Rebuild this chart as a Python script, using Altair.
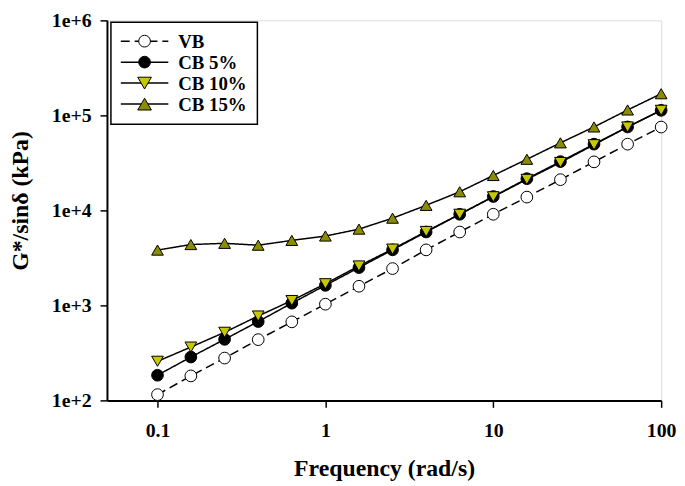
import altair as alt
import pandas as pd

# ---- data ----
freq = [0.1, 0.158, 0.251, 0.398, 0.631, 1.0, 1.585, 2.512, 3.981, 6.31,
        10.0, 15.85, 25.12, 39.81, 63.1, 100.0]
vb = [115, 181, 279, 436, 671, 1030, 1590, 2440, 3840, 5920,
      9100, 13800, 21050, 32400, 49800, 75400]
cb5 = [184, 286, 439, 676, 1055, 1626, 2500, 3843, 5920, 9100,
       14000, 21560, 32600, 49800, 75500, 113000]
cb10 = [258, 364, 521, 773, 1125, 1690, 2600, 3910, 6000, 9100,
        13900, 21200, 31900, 49100, 75500, 113000]
cb15 = [3820, 4370, 4500, 4300, 4830, 5370, 6350, 8280, 11300, 15700,
        23300, 34500, 51400, 75500, 114000, 169000]

names = ["VB", "CB 5%", "CB 10%", "CB 15%"]
series_vals = [vb, cb5, cb10, cb15]
x_ticks = [0.1, 1, 10, 100]
y_ticks = [1e2, 1e3, 1e4, 1e5, 1e6]

rows = []
for n, vals in zip(names, series_vals):
    for f, v in zip(freq, vals):
        rows.append({"freq": f, "value": v, "series": n})
df = pd.DataFrame(rows)

FONT = "Liberation Serif"
fills = ["white", "black", "#C8C800", "#8C8C00"]
shapes = ["circle", "circle", "triangle-down", "triangle-up"]
sizes = [140, 140, 190, 190]
dashes = [[9, 5], [1, 0], [1, 0], [1, 0]]

fill_scale = alt.Scale(domain=names, range=fills)
shape_scale = alt.Scale(domain=names, range=shapes)
size_scale = alt.Scale(domain=names, range=sizes)
dash_scale = alt.Scale(domain=names, range=dashes)

H = 384

x_enc = alt.X(
    "freq:Q",
    scale=alt.Scale(type="log", domain=[0.05, 100], nice=False),
    axis=alt.Axis(
        values=x_ticks, format="~g", title="Frequency (rad/s)", grid=False,
        tickSize=7, tickWidth=1.5, tickColor="black", domainColor="black",
        domainWidth=2, labelFont=FONT, labelFontSize=20, labelFontWeight="bold",
        labelColor="black", labelPadding=13, labelFlush=False, labelOverlap=False,
        titleFont=FONT, titleFontSize=24, titleFontWeight="bold", titleColor="black",
        titleBaseline="alphabetic", titleY=76,
    ),
)
y_enc = alt.Y(
    "value:Q",
    scale=alt.Scale(type="log", domain=[1e2, 1e6], nice=False),
    axis=alt.Axis(
        values=y_ticks, labelExpr="'1e+' + round(log(datum.value) / LN10)",
        title="G*/sinδ (kPa)", grid=False,
        tickSize=7, tickWidth=1.5, tickColor="black", domainColor="black",
        domainWidth=2, labelFont=FONT, labelFontSize=20, labelFontWeight="bold",
        labelColor="black", labelPadding=9, labelOverlap=False,
        titleFont=FONT, titleFontSize=24, titleFontWeight="bold", titleColor="black",
        titleBaseline="bottom", titleX=-75, titleY=182, titleAngle=270,
    ),
)

lines = alt.Chart(df).mark_line(color="black", strokeWidth=1.5).encode(
    x=x_enc, y=y_enc, detail="series:N",
    strokeDash=alt.StrokeDash("series:N", scale=dash_scale, legend=None),
)
points = alt.Chart(df).mark_point(filled=True, stroke="black", strokeWidth=1, opacity=1).encode(
    x="freq:Q", y="value:Q",
    fill=alt.Fill("series:N", scale=fill_scale, legend=None),
    shape=alt.Shape("series:N", scale=shape_scale, legend=None),
    size=alt.Size("series:N", scale=size_scale, legend=None),
)

# ---- hand-made legend box ----
box_df = pd.DataFrame({"series": ["box"]})
box = alt.Chart(box_df).mark_rect(fill="white", stroke="black", strokeWidth=1.5).encode(
    x=alt.value(4), x2=alt.value(152), y=alt.value(2), y2=alt.value(105)
)
legend_layers = [box]
for i, n in enumerate(names):
    ly = 21 + 21.2 * i
    ldf = pd.DataFrame({"series": [n]})
    legend_layers.append(
        alt.Chart(ldf).mark_rule(color="black", strokeWidth=1.5,
                                 strokeDash=dashes[i]).encode(
            x=alt.value(14), x2=alt.value(62), y=alt.value(ly)
        )
    )
    legend_layers.append(
        alt.Chart(ldf).mark_point(filled=True, stroke="black", strokeWidth=1, opacity=1,
                                  shape=shapes[i], size=sizes[i], fill=fills[i]).encode(
            x=alt.value(38), y=alt.value(ly)
        )
    )
    legend_layers.append(
        alt.Chart(ldf).mark_text(align="left", baseline="middle", font=FONT,
                                 fontSize=19, fontWeight="bold", color="black").encode(
            x=alt.value(72), y=alt.value(ly + 1), text="series:N"
        )
    )

chart = alt.layer(lines, points, *legend_layers).properties(
    width=560, height=H,
    autosize=alt.AutoSizeParams(type="none"),
    padding={"left": 100, "top": 10, "right": 16, "bottom": 84},
).configure_view(stroke="black", strokeWidth=2).configure(background="white")

chart.save("out.html", embed_options={"renderer": "svg", "actions": False})
